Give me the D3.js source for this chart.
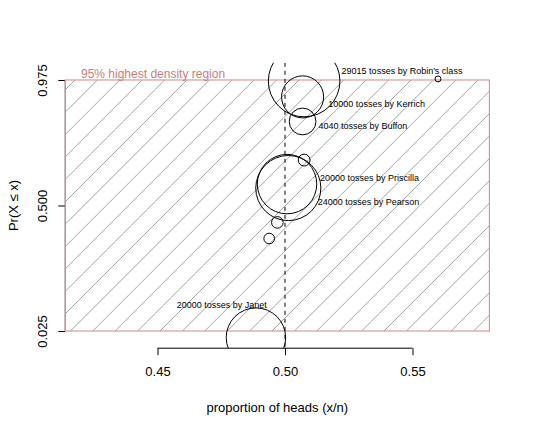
<!DOCTYPE html>
<html>
<head>
<meta charset="utf-8">
<script src="https://cdn.jsdelivr.net/npm/d3@7"></script>
<style>
  body { margin: 0; background: #fff; }
  text { font-family: "Liberation Sans", Arial, sans-serif; }
</style>
</head>
<body>
<div id="container"></div>
<script>
const WIDTH = 540;
const HEIGHT = 430;
const PLOT = { LEFT: 65.3, RIGHT: 489.4, TOP: 62.8, BOTTOM: 348.2 };

// data
const who = ["Robin's class", 'Kerrich', 'Buffon', 'Priscilla', 'Pearson', 'Janet', null, null, null, null];
const tosses = [29015, 10000, 4040, 20000, 24000, 20000, 800, 760, 640, 200];
const propHeads = [0.5075, 0.5069, 0.5069, 0.5008, 0.5013, 0.4886, 0.5075, 0.4970, 0.4938, 0.5600];
const cumProb = [0.971, 0.911, 0.818, 0.581, 0.566, 0.000, 0.672, 0.436, 0.375, 0.979];
// where each label sits, in data units
const labelX = [0.5222, 0.5170, 0.5131, 0.5137, 0.5128, 0.4752];
const labelY = [1.010, 0.884, 0.802, 0.605, 0.514, 0.1235];

const xTicks = [0.45, 0.50, 0.55];
const yTicks = [0.025, 0.500, 0.975];
const hdr = [0.025, 0.975];
const xlim = [0.42, 0.574];
const ylim = [0, 1];

const pad = (lim) => {
  const d = (lim[1] - lim[0]) * 0.04;
  return [lim[0] - d, lim[1] + d];
};

const xscale = d3.scaleLinear().domain(pad(xlim)).range([PLOT.LEFT, PLOT.RIGHT]);
const yscale = d3.scaleLinear().domain(pad(ylim)).range([PLOT.BOTTOM, PLOT.TOP]);
const rscale = d3.scaleSqrt().domain([0, d3.max(tosses)]).range([0, 35.8]);

const svg = d3.select('#container')
              .append('svg')
                .attr('width', WIDTH)
                .attr('height', HEIGHT);

svg.append('rect').attr('width', WIDTH).attr('height', HEIGHT).attr('fill', '#fff');

const defs = svg.append('defs');
defs.append('clipPath').attr('id', 'plotclip')
    .append('rect')
      .attr('x', PLOT.LEFT).attr('y', PLOT.TOP)
      .attr('width', PLOT.RIGHT - PLOT.LEFT)
      .attr('height', PLOT.BOTTOM - PLOT.TOP);

const rx0 = xscale.range()[0], rx1 = xscale.range()[1];
const ry0 = yscale(hdr[1]), ry1 = yscale(hdr[0]);

defs.append('clipPath').attr('id', 'hdrclip')
    .append('rect')
      .attr('x', rx0).attr('y', ry0)
      .attr('width', rx1 - rx0).attr('height', ry1 - ry0);

// axes
const xAxis = svg.append('g')
                 .attr('transform', `translate(0, ${PLOT.BOTTOM})`)
                 .call(d3.axisBottom(xscale).tickValues(xTicks)
                         .tickFormat(d3.format('.2f')).tickSize(7).tickPadding(12));
xAxis.select('.domain').attr('d', `M${xscale(xTicks[0])},0H${xscale(xTicks[2])}`);

const yAxis = svg.append('g')
                 .attr('transform', `translate(${PLOT.LEFT}, 0)`)
                 .call(d3.axisLeft(yscale).tickValues(yTicks)
                         .tickFormat(d3.format('.3f')).tickSize(7));
yAxis.select('.domain').attr('d', `M0,${yscale(yTicks[0])}V${yscale(yTicks[2])}`);

[xAxis, yAxis].forEach(a => {
  a.selectAll('path, line').attr('stroke', '#000').attr('stroke-width', 1);
  a.selectAll('text').attr('fill', '#000')
   .style('font-family', '"Liberation Sans", Arial, sans-serif')
   .style('font-size', '13px');
});

yAxis.selectAll('.tick text')
     .attr('x', null).attr('dy', null)
     .attr('text-anchor', 'middle')
     .attr('transform', 'translate(-22.5, 0) rotate(-90)')
     .attr('dominant-baseline', 'central');

// axis titles
svg.append('text')
   .attr('x', (PLOT.LEFT + PLOT.RIGHT) / 2)
   .attr('y', 407)
   .attr('text-anchor', 'middle')
   .attr('dominant-baseline', 'central')
   .style('font-size', '13px')
   .text('proportion of heads (x/n)');

svg.append('text')
   .attr('transform', `translate(13, ${(PLOT.TOP + PLOT.BOTTOM) / 2}) rotate(-90)`)
   .attr('text-anchor', 'middle')
   .attr('dominant-baseline', 'central')
   .style('font-size', '13px')
   .text('Pr(X \u2264 x)');

// highest density region, hatched
const hatch = svg.append('g').attr('clip-path', 'url(#hdrclip)');
const step = 22.4;
const c0 = 155 - Math.ceil((155 - (rx0 + ry0)) / step) * step;
for (let c = c0; c <= rx1 + ry1 + step; c += step) {
  hatch.append('line')
       .attr('x1', c - ry1).attr('y1', ry1)
       .attr('x2', c - ry0).attr('y2', ry0)
       .attr('stroke', '#8a8a8a')
       .attr('stroke-width', 0.8);
}

svg.append('rect')
   .attr('x', rx0).attr('y', ry0)
   .attr('width', rx1 - rx0).attr('height', ry1 - ry0)
   .attr('fill', 'none')
   .attr('stroke', '#d69c9c')
   .attr('stroke-width', 1.2);

svg.append('text')
   .attr('x', xscale(xlim[0]))
   .attr('y', ry0 - 6)
   .attr('dominant-baseline', 'central')
   .attr('fill', '#cd7b7b')
   .style('font-size', '12px')
   .text('95% highest density region');

// plot region content
const plot = svg.append('g').attr('clip-path', 'url(#plotclip)');

plot.append('line')
    .attr('x1', xscale(0.5)).attr('x2', xscale(0.5))
    .attr('y1', PLOT.TOP).attr('y2', PLOT.BOTTOM)
    .attr('stroke', '#000')
    .attr('stroke-dasharray', '4,4');

plot.selectAll('circle')
    .data(tosses)
    .enter()
    .append('circle')
      .attr('cx', (d, i) => xscale(propHeads[i]))
      .attr('cy', (d, i) => yscale(cumProb[i]))
      .attr('r', d => rscale(d))
      .attr('fill', 'none')
      .attr('stroke', '#000')
      .attr('stroke-width', 1);

svg.selectAll('text.who')
   .data(labelX)
   .enter()
   .append('text')
     .attr('class', 'who')
     .attr('x', d => xscale(d))
     .attr('y', (d, i) => yscale(labelY[i]))
     .attr('text-anchor', (d, i) => who[i] === 'Janet' ? 'middle' : 'start')
     .attr('dominant-baseline', 'central')
     .style('font-size', '9px')
     .text((d, i) => `${tosses[i]} tosses by ${who[i]}`);
</script>
</body>
</html>
